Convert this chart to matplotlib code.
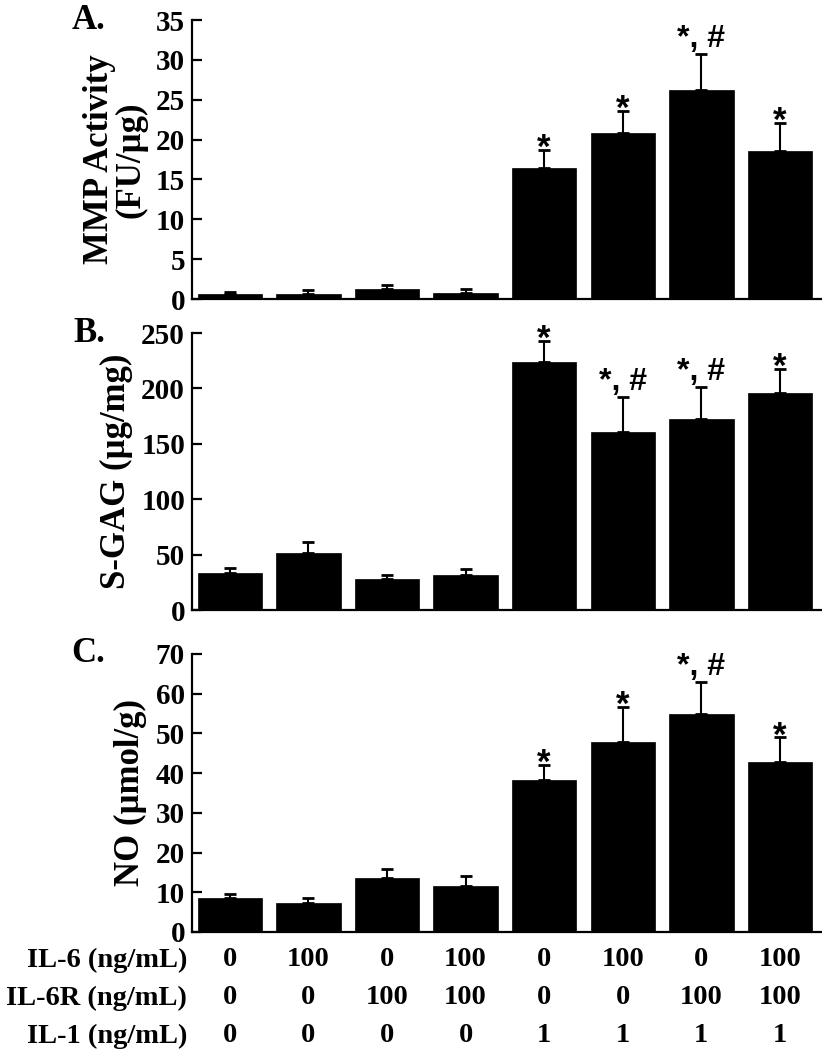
import numpy as np
import matplotlib
matplotlib.use('Agg')
import matplotlib.pyplot as plt
import matplotlib.transforms as mtransforms

plt.rcParams['font.family'] = ['Liberation Serif', 'DejaVu Serif']
plt.rcParams['font.weight'] = 'bold'

# data
groups = np.arange(8)
il6 = ['0', '100', '0', '100', '0', '100', '0', '100']
il6r = ['0', '0', '100', '100', '0', '0', '100', '100']
il1 = ['0', '0', '0', '0', '1', '1', '1', '1']

mmp = [0.6, 0.6, 1.3, 0.8, 16.4, 20.8, 26.2, 18.6]
mmp_err = [0.3, 0.5, 0.5, 0.4, 2.3, 2.8, 4.5, 3.5]
mmp_sig = ['', '', '', '', '*', '*', '*, #', '*']

sgag = [33.5, 51.5, 28.0, 32.0, 224, 161, 172, 196]
sgag_err = [4.5, 10.0, 3.5, 5.0, 19, 31, 29, 22]
sgag_sig = ['', '', '', '', '*', '*, #', '*, #', '*']

no = [8.5, 7.3, 13.6, 11.6, 38.3, 47.9, 54.9, 42.8]
no_err = [1.1, 1.3, 2.3, 2.5, 3.8, 8.8, 8.0, 6.2]
no_sig = ['', '', '', '', '*', '*', '*, #', '*']

panels = [
    ('A.', 'MMP Activity\n(FU/µg)', mmp, mmp_err, mmp_sig, 35, 5, [0.2336, 0.7152, 0.765, 0.2657]),
    ('B.', 'S-GAG (µg/mg)', sgag, sgag_err, sgag_sig, 250, 50, [0.2336, 0.419, 0.765, 0.2638]),
    ('C.', 'NO (µmol/g)', no, no_err, no_sig, 70, 10, [0.2336, 0.1124, 0.765, 0.2648]),
]

fig = plt.figure(figsize=(8.22, 10.5), dpi=100)

for letter, ylab, vals, errs, sig, ymax, step, rect in panels:
    ax = fig.add_axes(rect)
    ax.bar(groups, vals, width=0.82, color='black', edgecolor='black', linewidth=0.5, zorder=2)
    ax.errorbar(groups, vals, yerr=[np.zeros(8), errs], fmt='none', ecolor='black',
                elinewidth=1.5, capsize=4, capthick=2, zorder=3)
    for x, v, e, s in zip(groups, vals, errs, sig):
        if s == '*':
            ax.annotate(s, (x, v + e), xytext=(0, 1), textcoords='offset points',
                        ha='center', va='center', fontsize=25,
                        family='Liberation Sans', fontweight='bold')
        elif s:
            ax.annotate(s, (x, v + e), xytext=(0, 5), textcoords='offset points',
                        ha='center', va='baseline', fontsize=23,
                        family='Liberation Sans', fontweight='bold')
    ax.set_xlim(-0.48, 7.52)
    ax.set_ylim(0, ymax)
    ax.set_yticks(np.arange(0, ymax + step / 2, step))
    ax.set_xticks([])
    ax.spines['top'].set_visible(False)
    ax.spines['right'].set_visible(False)
    ax.spines['left'].set_linewidth(1.6)
    ax.spines['bottom'].set_linewidth(1.6)
    ax.tick_params(axis='y', direction='in', length=7, width=1.6, labelsize=21, pad=5)
    for t in ax.get_yticklabels():
        t.set_fontweight('bold')
    ax.set_ylabel(ylab, fontsize=25, fontweight='bold', linespacing=0.95, labelpad=6)
    ax.text(-0.138, 1.0, letter, transform=ax.transAxes, fontsize=25, fontweight='bold',
            ha='right', va='center')

# treatment table under the last panel
trans = mtransforms.blended_transform_factory(ax.transData, fig.transFigure)
rows = [('IL-6 (ng/mL)', il6, 1 - 960 / 1050),
        ('IL-6R (ng/mL)', il6r, 1 - 998 / 1050),
        ('IL-1 (ng/mL)', il1, 1 - 1036 / 1050)]
for name, labels, yy in rows:
    fig.text(187 / 822, yy, name, ha='right', va='center', fontsize=20.5, fontweight='bold')
    for x, lab in zip(groups, labels):
        ax.text(x, yy, lab, transform=trans, ha='center', va='center', fontsize=20.5,
                fontweight='bold', clip_on=False)

fig.savefig('out.png', dpi=100)
